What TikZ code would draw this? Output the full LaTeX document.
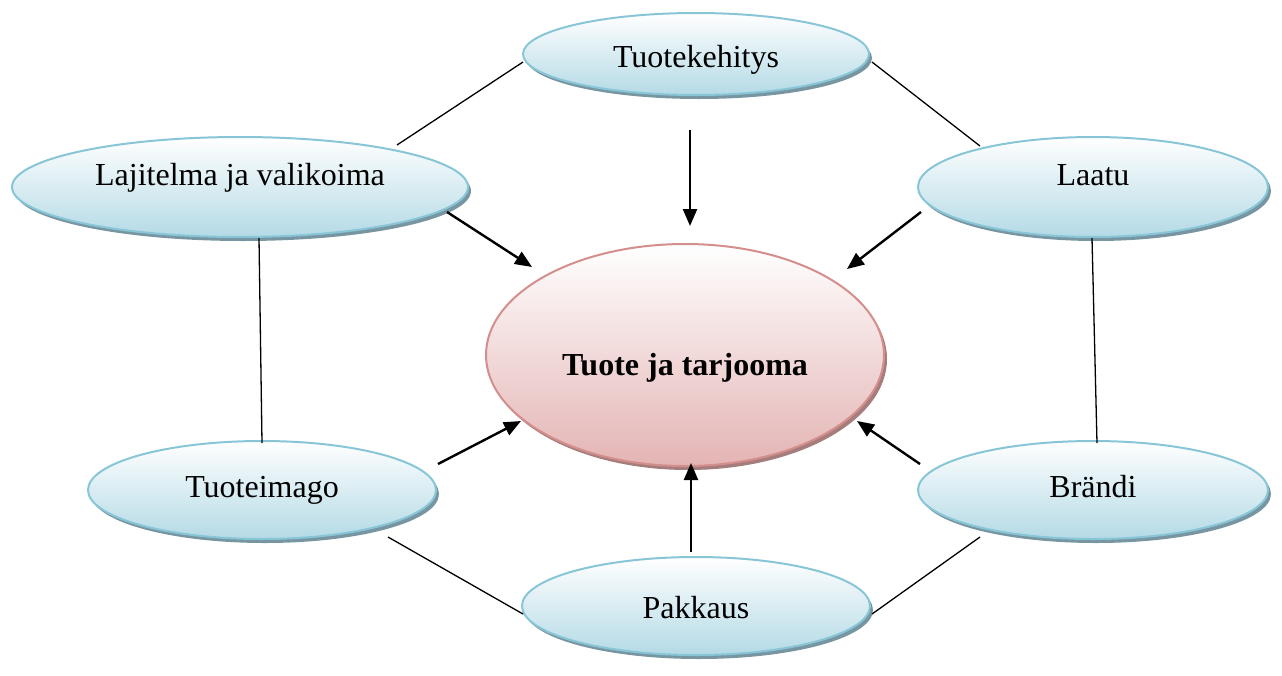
\documentclass[tikz,border=0pt]{standalone}
\usepackage{fontspec}
\setmainfont{Liberation Serif}
\usetikzlibrary{shapes.geometric,shadows,arrows.meta,calc}
\definecolor{blueedge}{RGB}{136,198,215}
\definecolor{bluefill}{RGB}{180,218,230}
\definecolor{blueshadow}{RGB}{120,150,162}
\definecolor{pinkedge}{RGB}{212,142,140}
\definecolor{pinkfill}{RGB}{228,180,180}
\definecolor{pinkshadow}{RGB}{165,125,125}
\begin{document}
\begin{tikzpicture}[x=1pt,y=-1pt,
  % baseline of the label sits (h - d)/2 from the centre of the shape
  topic/.style={ellipse, draw=blueedge, line width=2pt,
    top color=white, bottom color=bluefill, inner sep=0pt,
    drop shadow={shadow xshift=3pt, shadow yshift=-4pt, fill=blueshadow, opacity=1},
    font=\fontsize{32}{36}\selectfont},
  core/.style={ellipse, draw=pinkedge, line width=2pt,
    top color=white, bottom color=pinkfill, inner sep=0pt,
    drop shadow={shadow xshift=3pt, shadow yshift=-4pt, fill=pinkshadow, opacity=1},
    font=\fontsize{32}{36}\selectfont\bfseries},
  link/.style={draw=black, line width=1.3pt},
  feed/.style={draw=black, line width=2.4pt, -{Triangle[length=17pt,width=14pt]}}]
\useasboundingbox (0,0) rectangle (1282,675);

% topics around the centre
\node[topic, minimum width=346pt, minimum height=82pt, text height=26pt, text depth=0pt] (tk) at (696,54) {Tuotekehitys};
\node[topic, minimum width=456pt, minimum height=100pt, text height=0pt, text depth=4pt] (lv) at (240,187) {Lajitelma ja valikoima};
\node[topic, minimum width=350pt, minimum height=100pt, text height=0pt, text depth=4pt] (la) at (1093,187) {Laatu};
\node[topic, minimum width=348pt, minimum height=98pt, text height=14pt, text depth=0pt] (ti) at (262,490) {Tuoteimago};
\node[topic, minimum width=350pt, minimum height=98pt, text height=14pt, text depth=0pt] (br) at (1093,490) {Brändi};
\node[topic, minimum width=348pt, minimum height=98pt, text height=24pt, text depth=0pt] (pk) at (696,606) {Pakkaus};

% centre
\node[core, minimum width=398pt, minimum height=222pt, text height=40pt, text depth=0pt] (c) at (685,355) {Tuote ja tarjooma};

% links between neighbouring topics
\draw[link] ($(lv)+(157,-42)$) -- ($(tk)+(-173,8)$);
\draw[link] ($(tk)+(176,8)$) -- ($(la)+(-113,-41)$);
\draw[link] ($(lv)+(19,51)$) -- ($(ti)+(0,-47)$);
\draw[link] ($(la)+(-1,51)$) -- ($(br)+(4,-47)$);
\draw[link] ($(ti)+(126,47)$) -- ($(pk)+(-173,8)$);
\draw[link] ($(br)+(-113,47)$) -- ($(pk)+(176,8)$);

% arrows into the centre
\draw[feed] ($(tk)+(-6,76)$) -- ($(c)+(5,-129)$);
\draw[feed] ($(lv)+(207,25)$) -- ($(c)+(-153,-88)$);
\draw[feed] ($(la)+(-172,25)$) -- ($(c)+(162,-86)$);
\draw[feed] ($(ti)+(176,-26)$) -- ($(c)+(-164,66)$);
\draw[feed] ($(pk)+(-5,-54)$) -- ($(c)+(6,108)$);
\draw[feed] ($(br)+(-173,-26)$) -- ($(c)+(172,66)$);
\end{tikzpicture}
\end{document}
